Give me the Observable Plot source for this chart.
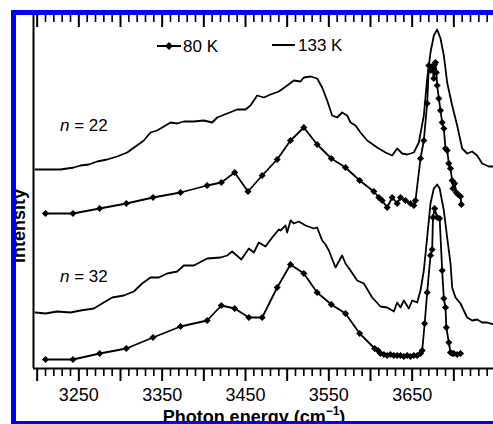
<!DOCTYPE html>
<html><head><meta charset="utf-8">
<script src="https://cdn.jsdelivr.net/npm/d3@7"></script>
<script src="https://cdn.jsdelivr.net/npm/@observablehq/plot@0.6"></script>
<style>
html,body{margin:0;padding:0;background:#fff;}
svg{display:block;}
</style>
</head><body><div id="chart"></div>
<script>
// ---- Data (intensity in arbitrary units) ----
const seriesLabels = ["80 K", "133 K"];
const panelLabels = ["n = 22", "n = 32"];
const xTickLabels = [3250, 3350, 3450, 3550, 3650];
const xTicksMajor = [3200, 3250, 3300, 3350, 3400, 3450, 3500, 3550, 3600, 3650, 3700];
const xTicksMinor = d3.range(3200, 3750, 10).filter(d => d % 50 !== 0);

// n = 22, 133 K
const e22_133 = [3198,3216,3228,3244,3252,3262,3272,3284,3296,3308,3318,3328,3336,3344,3350,3360,3368,3376,3388,3400,3410,3416,3428,3440,3450,3456,3464,3472,3480,3490,3500,3508,3516,3520,3528,3536,3542,3548,3554,3560,3566,3572,3576,3582,3588,3596,3608,3618,3626,3632,3638,3644,3652,3658,3664,3668,3672,3676,3680,3684,3688,3692,3698,3704,3710,3716,3722,3728,3734,3742,3748];
const i22_133 = [199,199,199,201,203,204,207,209,212,216,222,228,236,238,241,246,245,247,247,248,246,251,255,259,259,263,273,271,274,277,283,288,287,291,292,290,281,268,253,251,256,253,246,243,236,228,221,216,213,220,215,214,216,226,253,290,316,333,339,330,313,286,263,243,220,215,217,213,205,202,202];

// n = 22, 80 K
const e22_80 = [3210,3243,3275,3307,3339,3372,3404,3421,3437,3453,3470,3488,3504,3520,3536,3553,3570,3587,3604,3610,3614,3620,3626,3632,3636,3642,3648,3652,3654,3660,3664,3668,3670,3672,3674,3676,3677,3678,3679,3680,3682,3684,3686,3688,3690,3692,3694,3696,3698,3699,3701,3703,3705,3708,3709];
const i22_80 = [155,155,160,165,171,176,183,186,196,177,193,209,228,241,224,210,201,188,177,171,168,161,171,165,171,168,165,163,168,210,228,265,303,298,302,290,304,306,296,283,270,258,246,240,220,218,205,200,188,180,185,176,174,172,164];

// n = 32, 133 K
const e32_133 = [3198,3210,3224,3240,3252,3268,3278,3290,3304,3316,3326,3336,3346,3356,3368,3376,3388,3404,3420,3428,3434,3445,3454,3460,3466,3474,3482,3490,3492,3498,3500,3504,3508,3514,3522,3532,3536,3542,3546,3550,3558,3566,3570,3576,3584,3592,3602,3612,3620,3628,3632,3636,3640,3646,3650,3656,3660,3664,3668,3672,3676,3680,3683,3688,3692,3696,3698,3702,3708,3716,3722,3728,3734,3740,3748];
const i32_133 = [56,55,57,56,58,60,65,71,73,77,85,91,91,95,97,103,103,110,111,113,117,109,120,116,126,122,131,139,138,143,136,148,145,147,143,140,141,128,124,118,101,113,105,98,88,85,71,62,61,57,66,61,68,60,68,66,78,98,131,165,180,184,180,158,131,105,81,71,65,51,48,49,46,46,44];

// n = 32, 80 K
const e32_80 = [3210,3243,3275,3307,3339,3372,3404,3421,3437,3454,3470,3488,3504,3520,3536,3553,3570,3587,3605,3609,3612,3616,3620,3624,3628,3632,3636,3640,3644,3648,3652,3656,3660,3662,3665,3668,3672,3674,3675,3677,3680,3683,3686,3688,3690,3691,3694,3696,3698,3700,3704,3708];
const i32_80 = [9,9,15,20,31,42,48,63,60,51,51,81,104,95,76,64,55,35,20,18,15,14,13,14,13,13,13,12,13,12,13,13,15,18,45,76,113,119,151,160,151,150,98,70,61,41,26,16,15,15,14,15];

const toRows = (e, v) => e.map((x, i) => ({energy: x, intensity: v[i]}));
const s22_133 = toRows(e22_133, i22_133);
const s22_80 = toRows(e22_80, i22_80);
const s32_133 = toRows(e32_133, i32_133);
const s32_80 = toRows(e32_80, i32_80);

const FONT = "Liberation Sans, Arial, Helvetica, sans-serif";
const xDomain = [3195.6, 3747.6];

const plot = Plot.plot({
  width: 493, height: 424,
  marginLeft: 33, marginRight: 0, marginTop: 15, marginBottom: 56,
  style: {fontFamily: FONT, background: "white", overflow: "visible"},
  x: {domain: xDomain},
  y: {domain: [0, 353], axis: null},
  marks: [
    Plot.axisX({anchor: "bottom", ticks: xTicksMajor, tickSize: 13, tickPadding: 7, strokeWidth: 2,
      tickFormat: d => xTickLabels.includes(d) ? String(d) : "", fontSize: 18, fill: "black", label: null}),
    Plot.axisX({anchor: "bottom", ticks: xTicksMinor, tickSize: 8, strokeWidth: 1.6, tickFormat: () => "", label: null}),
    Plot.tickX(xTicksMajor, {x: d => d, insetBottom: 341, strokeWidth: 2}),
    Plot.tickX(xTicksMinor, {x: d => d, insetBottom: 346, strokeWidth: 1.6}),
    Plot.ruleY([0], {strokeWidth: 2}),
    Plot.ruleX([xDomain[0]], {strokeWidth: 2}),
    Plot.line(s22_133, {x: "energy", y: "intensity", stroke: "black", strokeWidth: 1.8}),
    Plot.line(s32_133, {x: "energy", y: "intensity", stroke: "black", strokeWidth: 1.8}),
    Plot.line(s22_80, {x: "energy", y: "intensity", stroke: "black", strokeWidth: 1.8}),
    Plot.line(s32_80, {x: "energy", y: "intensity", stroke: "black", strokeWidth: 1.8}),
    Plot.dot(s22_80, {x: "energy", y: "intensity", symbol: "diamond2", r: 3.2, fill: "black"}),
    Plot.dot(s32_80, {x: "energy", y: "intensity", symbol: "diamond2", r: 3.2, fill: "black"})
  ]
});

document.getElementById("chart").appendChild(plot);
const svg = d3.select(plot);

// Legend
const lg = svg.append("g").attr("font-family", FONT).attr("font-size", 17).attr("fill", "black").attr("text-anchor", "start");
lg.append("line").attr("x1", 157).attr("x2", 181).attr("y1", 46).attr("y2", 46).attr("stroke", "black").attr("stroke-width", 2);
lg.append("path").attr("d", d3.symbol(d3.symbolDiamond2, 40)()).attr("transform", "translate(169,46)").attr("fill", "black");
lg.append("text").attr("x", 183).attr("y", 52).text(seriesLabels[0]);
lg.append("line").attr("x1", 272).attr("x2", 295).attr("y1", 45).attr("y2", 45).attr("stroke", "black").attr("stroke-width", 2);
lg.append("text").attr("x", 298).attr("y", 51).text(seriesLabels[1]);

// Panel labels
[[panelLabels[0], 131], [panelLabels[1], 282]].forEach(([t, y]) => {
  const tx = lg.append("text").attr("x", 60).attr("y", y);
  tx.append("tspan").attr("font-style", "italic").text(t.slice(0, 1));
  tx.append("tspan").text(t.slice(1));
});

// Axis titles
svg.append("text").attr("font-family", FONT).attr("font-weight", "bold").attr("font-size", 18)
  .attr("transform", "translate(25,226) rotate(-90)").attr("text-anchor", "middle").text("Intensity");
const xt = svg.append("text").attr("font-family", FONT).attr("font-weight", "bold").attr("font-size", 18)
  .attr("x", 254).attr("y", 423).attr("text-anchor", "middle");
xt.append("tspan").text("Photon energy (cm");
xt.append("tspan").attr("font-size", 12).attr("dy", -8).text("\u22121");
xt.append("tspan").attr("dy", 8).text(")");

// Blue border
svg.append("rect").attr("x", 13.5).attr("y", 12.5).attr("width", 520).attr("height", 411)
  .attr("fill", "none").attr("stroke", "#0000ff").attr("stroke-width", 5);
</script>
</body></html>
